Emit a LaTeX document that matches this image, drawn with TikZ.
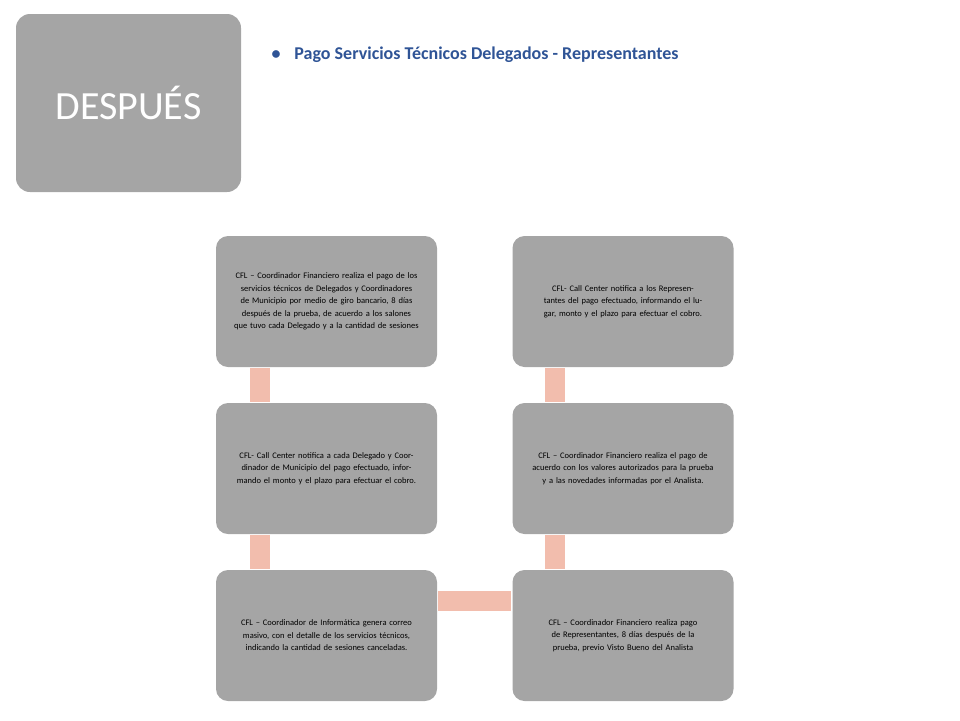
\documentclass[tikz,border=0pt]{standalone}
\usepackage{fontspec}
\setmainfont{Carlito}
\usetikzlibrary{calc}
\definecolor{boxgray}{HTML}{A5A5A5}
\definecolor{barpink}{HTML}{F2BDAD}
\definecolor{titleblue}{HTML}{2F5496}
\tikzset{
 stepbox/.style={fill=boxgray,rounded corners=12pt,minimum width=221pt,minimum height=131pt,text width=200pt,align=center,font=\fontsize{8.5}{12.5}\selectfont,inner sep=0pt},
 bar/.style={barpink,line width=20pt}
}
\begin{document}
\begin{tikzpicture}[x=1pt,y=-1pt]
\useasboundingbox (0,0) rectangle (960,720);
\node[fill=boxgray,rounded corners=14pt,minimum width=225pt,minimum height=178pt,text=white,font=\fontsize{40}{40}\selectfont,inner sep=0pt](despues) at (128.5,103){DESPUÉS};
\node[anchor=west,text=titleblue,font=\fontsize{18}{18}\selectfont\bfseries](title) at (268,55){\textbullet\hspace{14pt}Pago Servicios Técnicos Delegados - Representantes};
% left column
\node[stepbox](a1) at (326.5,301.5){CFL -- Coordinador Financiero realiza el pago de los servicios técnicos de Delegados y Coordinadores de Municipio por medio de giro bancario, 8 días después de la prueba, de acuerdo a los salones que tuvo cada Delegado y a la cantidad de sesiones};
\node[stepbox](a2) at (326.5,468.5){CFL- Call Center notifica a cada Delegado y Coordinador de Municipio del pago efectuado, informando el monto y el plazo para efectuar el cobro.};
\node[stepbox](a3) at (326.5,635.5){CFL -- Coordinador de Informática genera correo masivo, con el detalle de los servicios técnicos, indicando la cantidad de sesiones canceladas.};
% right column
\node[stepbox](b3) at (623,635.5){CFL -- Coordinador Financiero realiza pago de Representantes, 8 días después de la prueba, previo Visto Bueno del Analista};
\node[stepbox](b2) at (623,468.5){CFL -- Coordinador Financiero realiza el pago de acuerdo con los valores autorizados para la prueba y a las novedades informadas por el Analista.};
\node[stepbox](b1) at (623,301.5){CFL- Call Center notifica a los Representantes del pago efectuado, informando el lugar, monto y el plazo para efectuar el cobro.};
% connectors
\draw[bar] ($(a1.south west)+(44,1)$) -- ($(a2.north west)+(44,-1)$);
\draw[bar] ($(a2.south west)+(44,1)$) -- ($(a3.north west)+(44,-1)$);
\draw[bar] ($(a3.east)+(1,-34.5)$) -- ($(b3.west)+(-1,-34.5)$);
\draw[bar] ($(b3.north west)+(43,-1)$) -- ($(b2.south west)+(43,1)$);
\draw[bar] ($(b2.north west)+(43,-1)$) -- ($(b1.south west)+(43,1)$);
\end{tikzpicture}
\end{document}
